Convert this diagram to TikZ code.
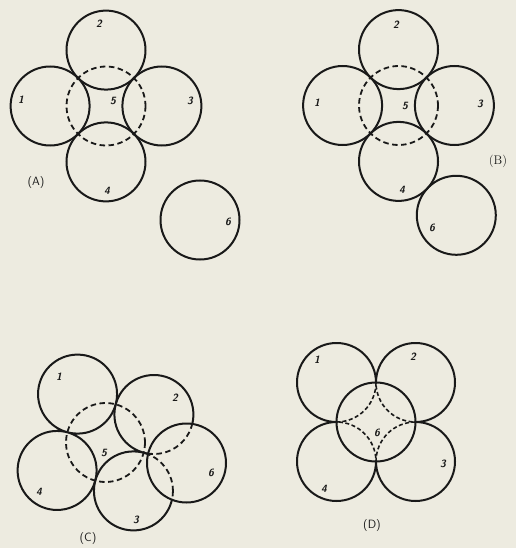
\documentclass[tikz,border=0pt]{standalone}
\definecolor{paper}{RGB}{237,235,224}
\definecolor{ink}{RGB}{25,25,25}
\begin{document}
\begin{tikzpicture}[x=1pt,y=-1pt,
  ring/.style={draw=ink, line width=2pt},
  ghost/.style={draw=ink, line width=1.8pt, dash pattern=on 5.5pt off 3.5pt},
  fine/.style={draw=ink, line width=1.6pt, dash pattern=on 4pt off 2.5pt},
  lbl/.style={font=\sffamily\bfseries\slshape\fontsize{10.5}{10.5}\selectfont, text=ink, inner sep=0pt},
  tag/.style={font=\sffamily\fontsize{12}{12}\selectfont, text=ink, inner sep=0pt},
  plbl/.style={font=\fontsize{12.5}{12.5}\selectfont, text=ink, inner sep=0pt}]
\fill[paper] (0,0) rectangle (516,548);
\useasboundingbox (0,0) rectangle (516,548);
\def\R{39.5}
% ---------- Panel A ----------
\coordinate (A5) at (106,106);
\coordinate (A1) at (50.1,106);
\coordinate (A3) at (161.9,106);
\coordinate (A2) at (106,50.1);
\coordinate (A4) at (106,161.9);
\coordinate (A6) at (200,220);
\foreach \c in {A1,A2,A3,A4,A6} \draw[ring] (\c) circle (\R);
\draw[ghost] (A5) circle (\R);
\node[lbl] (a2) at (99,24) {2};
\node[lbl] (a1) at (21,100) {1};
\node[lbl] (a5) at (113,101) {5};
\node[lbl] (a3) at (190,101) {3};
\node[lbl] (a4) at (107,191) {4};
\node[lbl] (a6) at (228,222) {6};
\node[tag] (aA) at (36,183) {(A)};
% ---------- Panel B ----------
\coordinate (B5) at (398.5,105.5);
\coordinate (B1) at (342.6,105.5);
\coordinate (B3) at (454.4,105.5);
\coordinate (B2) at (398.5,49.6);
\coordinate (B4) at (398.5,161.4);
\coordinate (B6) at (456.3,215.3);
\foreach \c in {B1,B2,B3,B4,B6} \draw[ring] (\c) circle (\R);
\draw[ghost] (B5) circle (\R);
\node[lbl] (b2) at (396,25) {2};
\node[lbl] (b1) at (317,103) {1};
\node[lbl] (b5) at (405,106) {5};
\node[lbl] (b3) at (480,104) {3};
\node[lbl] (b4) at (402,190) {4};
\node[lbl] (b6) at (432,228) {6};
\node[plbl] (bB) at (498,161) {(B)};
% ---------- Panel C ----------
\coordinate (C5) at (105.5,442.5);
\coordinate (C1) at (77.55,394.1);
\coordinate (C2) at (153.9,414.5);
\coordinate (C3) at (133.45,490.9);
\coordinate (C4) at (57.1,470.45);
\coordinate (C6) at (186.5,463);
\draw[ring] (C1) circle (\R) (C4) circle (\R) (C6) circle (\R);
\draw[ghost] (C5) circle (\R);
\begin{scope}[even odd rule]
  \clip (0,280) rectangle (260,548) (C6) circle (\R);
  \draw[ring] (C2) circle (\R) (C3) circle (\R);
\end{scope}
\begin{scope}
  \clip (C6) circle (\R);
  \draw[ghost] (C2) circle (\R) (C3) circle (\R);
\end{scope}
\node[lbl] (c1) at (59,377) {1};
\node[lbl] (c2) at (175,398) {2};
\node[lbl] (c5) at (104,453) {5};
\node[lbl] (c4) at (39,492) {4};
\node[lbl] (c3) at (136,520) {3};
\node[lbl] (c6) at (211,473) {6};
\node[tag] (cC) at (88,538) {(C)};
% ---------- Panel D ----------
\coordinate (D6) at (376,422);
\coordinate (D1) at (336.5,382.5);
\coordinate (D2) at (415.5,382.5);
\coordinate (D3) at (415.5,461.5);
\coordinate (D4) at (336.5,461.5);
\draw[ring] (D6) circle (\R);
\begin{scope}[even odd rule]
  \clip (260,280) rectangle (516,548) (D6) circle (\R);
  \draw[ring] (D1) circle (\R) (D2) circle (\R) (D3) circle (\R) (D4) circle (\R);
\end{scope}
\begin{scope}
  \clip (D6) circle (\R);
  \draw[fine] (D1) circle (\R) (D2) circle (\R) (D3) circle (\R) (D4) circle (\R);
\end{scope}
\node[lbl] (d1) at (317,360) {1};
\node[lbl] (d2) at (413,357) {2};
\node[lbl] (d3) at (443,464) {3};
\node[lbl] (d4) at (324,489) {4};
\node[lbl] (d6) at (377,433) {6};
\node[tag] (dD) at (372,525) {(D)};
\end{tikzpicture}
\end{document}
